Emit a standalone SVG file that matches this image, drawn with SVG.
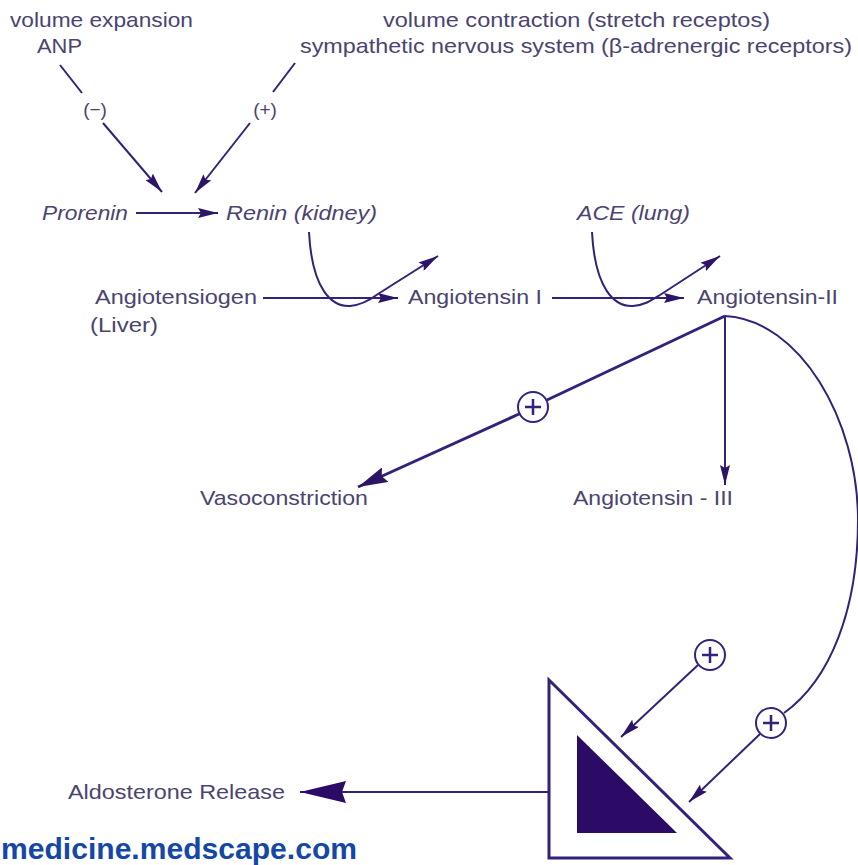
<svg xmlns="http://www.w3.org/2000/svg" width="858" height="865" viewBox="0 0 858 865">
<style>
.t{font-family:"Liberation Sans",Arial,sans-serif;font-size:21px;fill:#4b4470}
.i{font-style:italic}
.s{font-size:19px}
.ln{fill:none;stroke:#35217a;stroke-width:2}
.th{stroke-width:3}
.c{fill:#fff;stroke:#35217a;stroke-width:2}
.p{stroke:#35217a;stroke-width:2.5}
.wm{font-family:"Liberation Sans",Arial,sans-serif;font-weight:bold;font-size:30px;fill:#1447a6}
</style>
<defs>
<marker id="a" markerUnits="userSpaceOnUse" viewBox="0 0 20 10" markerWidth="20" markerHeight="10" refX="20" refY="5" orient="auto"><path d="M0,0 L20,5 L0,10 L3,5 z" fill="#2c1466"/></marker>
<marker id="am" markerUnits="userSpaceOnUse" viewBox="0 0 30 16" markerWidth="30" markerHeight="16" refX="30" refY="8" orient="auto"><path d="M0,0 L30,8 L0,16 L4,8 z" fill="#2c1466"/></marker>
<marker id="al" markerUnits="userSpaceOnUse" viewBox="0 0 46 22" markerWidth="46" markerHeight="22" refX="46" refY="11" orient="auto"><path d="M0,0 L46,11 L0,22 L4,11 z" fill="#2c0b66"/></marker>
</defs>
<rect width="858" height="865" fill="#fff"/>

<g id="connectors">
<line class="ln" x1="60" y1="65" x2="82" y2="93"/>
<line class="ln" x1="103" y1="123" x2="162" y2="192" marker-end="url(#a)"/>
<line class="ln" x1="295" y1="63" x2="273" y2="92"/>
<line class="ln" x1="250" y1="123" x2="195" y2="193" marker-end="url(#a)"/>
<line class="ln" x1="136" y1="213" x2="218" y2="213" marker-end="url(#a)"/>
<line class="ln" x1="263" y1="298" x2="398" y2="298" marker-end="url(#a)"/>
<line class="ln" x1="552" y1="298" x2="684" y2="298" marker-end="url(#a)"/>
<path class="ln" d="M309,232 C312,290 332,307 350,306 C362,305 370,300 378,294 L438,256" marker-end="url(#a)"/>
<path class="ln" d="M592,232 C595,290 615,307 633,306 C645,305 652,300 660,295 L720,256" marker-end="url(#a)"/>
<line class="ln th" x1="725" y1="316" x2="547" y2="400"/>
<line class="ln th" x1="519" y1="414" x2="358" y2="487" marker-end="url(#am)"/>
<line class="ln" x1="725" y1="316" x2="725" y2="485" marker-end="url(#a)"/>
<path class="ln" d="M725,316 C800,320 858,420 858,520 C858,610 830,680 784,713"/>
<line class="ln" x1="698" y1="665" x2="621" y2="737" marker-end="url(#a)"/>
<line class="ln" x1="760" y1="734" x2="689" y2="802" marker-end="url(#a)"/>
<line class="ln" x1="549" y1="792" x2="300" y2="792" stroke-width="3.5" marker-end="url(#al)"/>
</g>

<g id="plus-vaso"><circle class="c" cx="533" cy="407" r="15"/><path class="p" d="M525,407 H541 M533,399 V415"/></g>
<g id="plus-top"><circle class="c" cx="710" cy="655" r="15"/><path class="p" d="M702,655 H718 M710,647 V663"/></g>
<g id="plus-curve"><circle class="c" cx="771" cy="723" r="15"/><path class="p" d="M763,723 H779 M771,715 V731"/></g>

<g id="adrenal">
<polygon points="549,680 549,858 730,858" fill="#fff" stroke="#35217a" stroke-width="3" stroke-linejoin="miter"/>
<polygon points="577,735 577,833 677,833" fill="#2c0b66"/>
</g>

<g id="volume-expansion"><text class="t" x="10" y="27" textLength="183" lengthAdjust="spacingAndGlyphs">volume expansion</text><text class="t" x="37" y="53" textLength="45" lengthAdjust="spacingAndGlyphs">ANP</text></g>
<g id="volume-contraction"><text class="t" x="383" y="27" textLength="387" lengthAdjust="spacingAndGlyphs">volume contraction (stretch receptos)</text><text class="t" x="300" y="53" textLength="552" lengthAdjust="spacingAndGlyphs">sympathetic nervous system (β-adrenergic receptors)</text></g>
<g id="minus-label"><text class="t s" x="95" y="116" text-anchor="middle">(−)</text></g>
<g id="plus-label"><text class="t s" x="265" y="116" text-anchor="middle">(+)</text></g>
<g id="prorenin"><text class="t i" x="42" y="220" textLength="86" lengthAdjust="spacingAndGlyphs">Prorenin</text></g>
<g id="renin"><text class="t i" x="226" y="220" textLength="151" lengthAdjust="spacingAndGlyphs">Renin (kidney)</text></g>
<g id="ace"><text class="t i" x="577" y="220" textLength="113" lengthAdjust="spacingAndGlyphs">ACE (lung)</text></g>
<g id="angiotensiogen"><text class="t" x="95" y="304" textLength="162" lengthAdjust="spacingAndGlyphs">Angiotensiogen</text><text class="t" x="90" y="332" textLength="68" lengthAdjust="spacingAndGlyphs">(Liver)</text></g>
<g id="angiotensin-i"><text class="t" x="408" y="304" textLength="134" lengthAdjust="spacingAndGlyphs">Angiotensin I</text></g>
<g id="angiotensin-ii"><text class="t" x="697" y="304" textLength="141" lengthAdjust="spacingAndGlyphs">Angiotensin-II</text></g>
<g id="vasoconstriction"><text class="t" x="200" y="505" textLength="168" lengthAdjust="spacingAndGlyphs">Vasoconstriction</text></g>
<g id="angiotensin-iii"><text class="t" x="573" y="505" textLength="160" lengthAdjust="spacingAndGlyphs">Angiotensin - III</text></g>
<g id="aldosterone"><text class="t" x="68" y="799" textLength="217" lengthAdjust="spacingAndGlyphs">Aldosterone Release</text></g>
<text class="wm" x="1" y="859" textLength="356" lengthAdjust="spacingAndGlyphs">medicine.medscape.com</text>
</svg>
